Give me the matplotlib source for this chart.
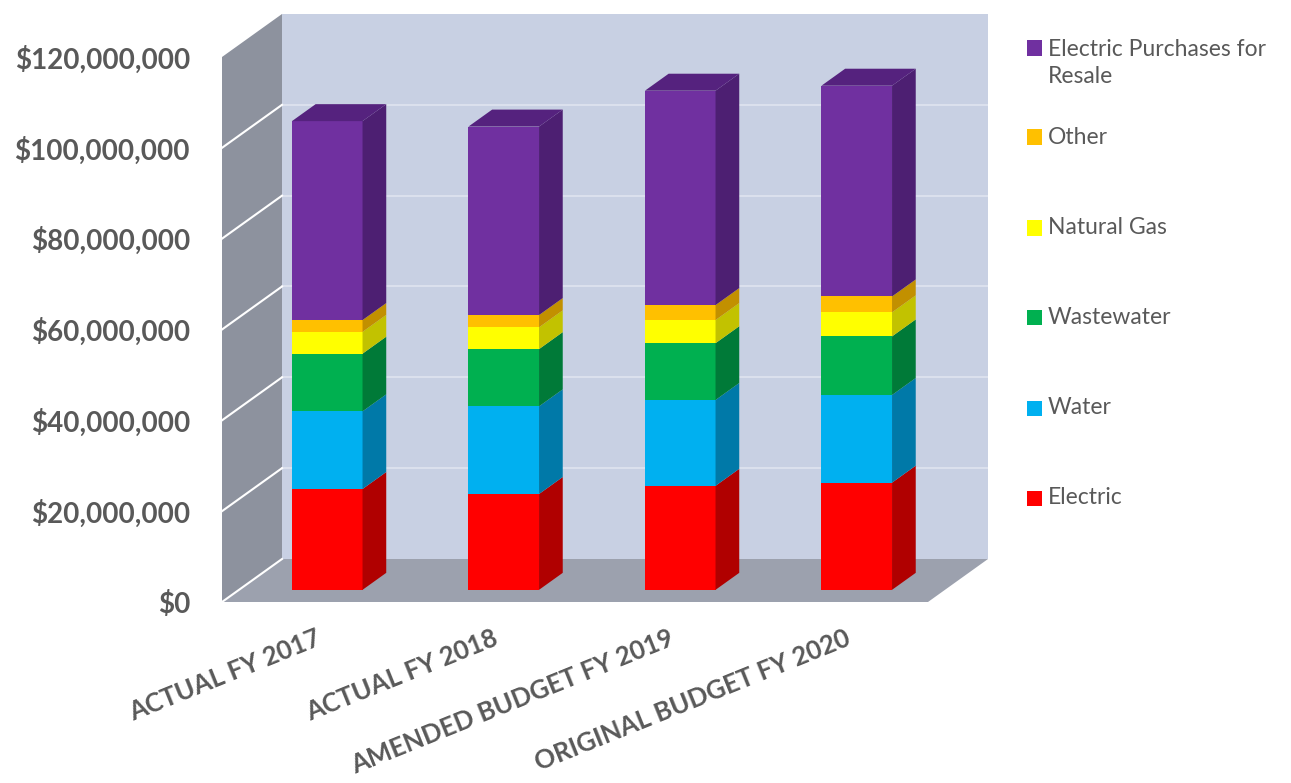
import numpy as np
import matplotlib.pyplot as plt
from matplotlib.patches import Polygon, Rectangle

# revenue by source, dollars
categories = ["ACTUAL FY 2017", "ACTUAL FY 2018", "AMENDED BUDGET FY 2019", "ORIGINAL BUDGET FY 2020"]
electric = [22_200_000, 21_100_000, 22_900_000, 23_600_000]
water = [17_100_000, 19_300_000, 18_900_000, 19_300_000]
wastewater = [12_700_000, 12_600_000, 12_500_000, 12_900_000]
natural_gas = [4_800_000, 4_800_000, 5_100_000, 5_300_000]
other = [2_600_000, 2_700_000, 3_300_000, 3_500_000]
purchases = [43_800_000, 41_500_000, 47_200_000, 46_400_000]

series = [electric, water, wastewater, natural_gas, other, purchases]
names = ["Electric", "Water", "Wastewater", "Natural Gas", "Other",
         "Electric Purchases for\nResale"]
front_cols = ["#ff0000", "#00b0f0", "#00b050", "#ffff00", "#ffc000", "#7030a0"]
side_cols = ["#b00000", "#0079a8", "#007a38", "#c2c200", "#c29000", "#4d1f72"]
top_col = "#55227e"

TXT = "#595959"
yticks = np.arange(0, 120_000_001, 20_000_000)

# fake depth of the 3d box, in data units
DX = 0.34
DY = 9.47e6
FRONT = 0.283   # where the bars start inside the box
DEPTH = 0.395   # bar depth as a fraction of the box
W = 0.40

fig = plt.figure(figsize=(12.91, 7.83), dpi=100)
ax = fig.add_axes([222 / 1291, 181 / 783, 766 / 1291, 592 / 783])
ax.set_xlim(-0.5, -0.5 + 766 / 176.5)
ax.set_ylim(0, 130.35e6)
for s in ax.spines.values():
    s.set_visible(False)

x0, x1 = -0.5, len(categories) - 0.5
# walls and floor
ax.add_patch(Polygon([(x0, 0), (x0, 120e6), (x0 + DX, 120e6 + DY), (x0 + DX, DY)],
                     closed=True, fc="#8d929e", ec="none", zorder=0))
ax.add_patch(Polygon([(x0, 0), (x1, 0), (x1 + DX, DY), (x0 + DX, DY)],
                     closed=True, fc="#9ca1ae", ec="none", zorder=0))
ax.add_patch(Rectangle((x0 + DX, DY), x1 - x0, 120e6, fc="#c8d0e3", ec="none", zorder=0))

# gridlines on back wall and side wall
for v in yticks:
    if 0 < v < 120e6:
        ax.plot([x0 + DX, x1 + DX], [v + DY, v + DY], color="white", lw=1.3, alpha=0.4, zorder=1)
    if v < 120e6:
        ax.plot([x0, x0 + DX], [v, v + DY], color="white", lw=1.5, zorder=1)

# stacked bars with side and top faces
x = np.arange(len(categories))
ox, oy = FRONT * DX, FRONT * DY
ddx, ddy = DEPTH * DX, DEPTH * DY
bottom = np.zeros(len(categories))
for vals, fc, sc in zip(series, front_cols, side_cols):
    vals = np.array(vals, dtype=float)
    ax.bar(x + ox, vals, width=W, bottom=bottom + oy, color=fc, lw=0, zorder=3)
    for xi, b, v in zip(x, bottom, vals):
        r = xi + ox + W / 2
        ax.add_patch(Polygon([(r, b + oy), (r, b + v + oy), (r + ddx, b + v + oy + ddy),
                              (r + ddx, b + oy + ddy)], closed=True, fc=sc, ec="none", zorder=3))
    bottom = bottom + vals

for xi, t in zip(x, bottom):
    l, r = xi + ox - W / 2, xi + ox + W / 2
    ax.add_patch(Polygon([(l, t + oy), (r, t + oy), (r + ddx, t + oy + ddy), (l + ddx, t + oy + ddy)],
                         closed=True, fc=top_col, ec="none", zorder=3))

# axis labels
ax.set_yticks(yticks)
ax.set_yticklabels(["${:,.0f}".format(v) for v in yticks], fontsize=20,
                   fontweight="bold", color=TXT, family="Lato")
ax.tick_params(axis="y", length=0, pad=23)
ax.set_xticks([])
for xi, c in zip(x, categories):
    ax.text(xi + 0.03, -5.2e6, c, rotation=22, rotation_mode="anchor", ha="right", va="top",
            fontsize=18.5, fontweight="bold", color=TXT, family="Lato", clip_on=False)

# legend, top entry first
ys = [63, 137, 228, 318, 408, 498]
sq_ys = [48, 137, 228, 318, 408, 498]
for name, fc, yl, ysq in zip(names[::-1], front_cols[::-1], ys, sq_ys):
    fig.patches.append(Rectangle((1027 / 1291, (783 - ysq - 7.5) / 783), 15 / 1291, 15 / 783,
                                 transform=fig.transFigure, fc=fc, ec="none"))
    fig.text(1048 / 1291, (783 - yl) / 783, name, ha="left", va="center", fontsize=16.5,
             color=TXT, family="Lato", linespacing=1.3)

fig.savefig("out.png", dpi=100)
